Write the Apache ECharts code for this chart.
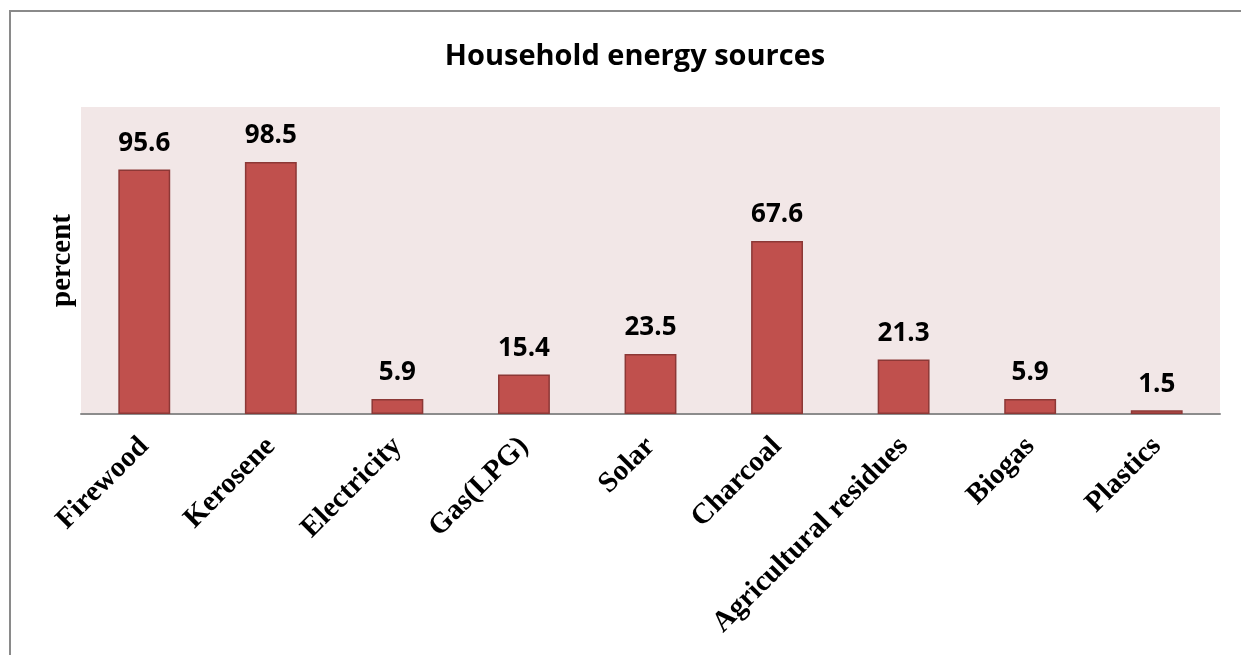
<!DOCTYPE html>
<html>
<head>
<meta charset="utf-8">
<script src="https://cdn.jsdelivr.net/npm/echarts@6/dist/echarts.min.js"></script>
<style>
  html, body { margin: 0; padding: 0; background: #fff; }
  #frame { position: absolute; left: 9px; top: 10px; width: 1240px; height: 650px;
           border-left: 2px solid #8a8a8a; border-top: 2px solid #8a8a8a; }
  #chart { position: absolute; left: 0; top: 0; width: 1241px; height: 655px; }
</style>
</head>
<body>
<div id="frame"></div>
<div id="chart"></div>
<script>
// Household energy use, share of households (percent)
const categories = ['Firewood', 'Kerosene', 'Electricity', 'Gas(LPG)', 'Solar',
                    'Charcoal', 'Agricultural residues', 'Biogas', 'Plastics'];
const percentValues = [95.6, 98.5, 5.9, 15.4, 23.5, 67.6, 21.3, 5.9, 1.5];

const chart = echarts.init(document.getElementById('chart'));
chart.setOption({
  animation: false,
  title: {
    text: 'Household energy sources',
    left: 630, top: 37, textAlign: 'center',
    textStyle: { fontFamily: 'Open Sans', fontWeight: 'bold', fontSize: 29, color: '#000' }
  },
  grid: {
    left: 81, right: 21, top: 107, bottom: 241,
    show: true, backgroundColor: '#f2e7e7', borderWidth: 0
  },
  xAxis: {
    type: 'category',
    data: categories,
    axisLine: { lineStyle: { color: '#8c8c8c', width: 2 } },
    axisTick: { show: false },
    axisLabel: {
      rotate: 45, interval: 0, margin: 28,
      fontFamily: 'Liberation Serif', fontWeight: 'bold', fontSize: 29, color: '#000'
    }
  },
  yAxis: {
    type: 'value', min: 0, max: 120,
    name: 'percent', nameLocation: 'middle', nameGap: 4, nameRotate: 90,
    nameTextStyle: { fontFamily: 'Liberation Serif', fontWeight: 'bold', fontSize: 29, color: '#000' },
    axisLine: { show: false }, axisTick: { show: false },
    axisLabel: { show: false }, splitLine: { show: false }
  },
  series: [{
    type: 'bar',
    data: percentValues,
    barCategoryGap: '59%',
    itemStyle: { color: '#c0504d', borderColor: '#8c3836', borderWidth: 1.5 },
    label: {
      show: true, position: 'top', distance: 13,
      fontFamily: 'Open Sans', fontWeight: 'bold', fontSize: 26, color: '#000'
    }
  }]
});
</script>
</body>
</html>
